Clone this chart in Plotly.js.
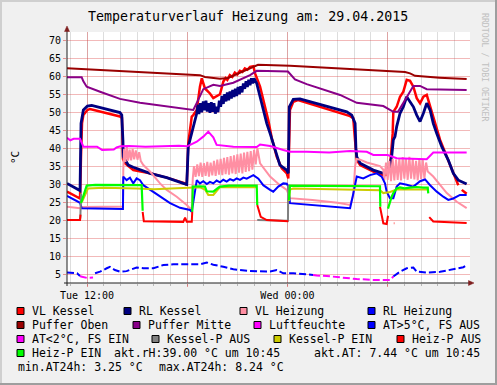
<!DOCTYPE html>
<html><head><meta charset="utf-8">
<script src="https://cdn.plot.ly/plotly-3.0.1.min.js"></script>
<style>html,body{margin:0;padding:0;background:#F0F0F0;}#chart{width:497px;height:385px;}</style>
</head><body><div id="chart"></div>
<script>
// ---- data (x = hours since Tue 00:00, y = °C) ----
const vlKesselH = [10.80,11.46,11.58,11.64,11.70,11.78,12.02,12.18,13.0,13.97,14.09,14.12,14.15,14.27,14.77,15.77,16.77,17.87,17.97,18.06,18.27,18.36,18.57,18.76,18.87,19.06,19.36,19.56,19.86,19.96,20.16,20.30,20.40,20.55,20.70,20.85,21.00,21.15,21.30,21.45,21.60,21.76,21.96,22.06,22.36,22.66,22.85,23.06,23.36,23.66,23.96,24.05,24.09,24.15,24.35,24.63,27.75,27.94,28.05,28.15,28.35,29.14,29.74,29.94,30.14,30.24,30.30,30.34,30.54,30.74,30.94,31.14,31.34,31.54,31.74,31.94,32.14,32.34,32.43,32.64,32.94,33.14,33.54,33.93,34.23,null,34.44,34.73];
const vlKesselT = [27.9,26.1,26.0,38,47,49.2,50.6,50.9,50.0,48.8,48.4,42,37,35.8,33.9,33.0,31.8,30.2,29.7,41.4,48.8,49.2,50.6,57.1,59.4,56.6,55.2,53.9,54.8,55.0,58.5,59.5,59.0,60.3,59.8,61.0,60.5,61.5,61.2,62.2,61.8,62.6,62.8,60.8,57.1,51.5,47.8,42.8,37.6,34.4,33.0,31.6,42,50.6,52.9,53.4,48.9,48.3,42,36.7,35.3,33.5,32.5,32.6,34.8,39.5,44.1,50.1,51.5,54.3,55.7,59.0,58.7,57.1,53.9,52.5,54.3,54.8,53.4,49.7,45.0,42.3,37.6,33.0,29.7,null,28.4,27.3];

const rlKesselH = [10.80,11.46,11.58,11.64,11.78,12.02,12.28,13.97,14.08,14.15,14.17,14.47,14.77,15.77,16.77,17.76,17.97,18.06,18.17,18.36,18.57,18.64,18.70,18.78,18.86,18.96,19.04,19.12,19.20,19.28,19.36,19.44,19.52,19.60,19.68,19.76,19.84,19.92,20.00,20.08,20.16,20.24,20.32,20.40,20.48,20.56,20.64,20.72,20.80,20.88,20.96,21.04,21.12,21.20,21.28,21.36,21.44,21.52,21.60,21.68,21.76,21.84,21.92,22.00,22.16,22.36,22.55,22.76,22.96,23.15,23.36,23.55,23.96,24.05,24.11,24.35,24.75,27.55,27.85,28.05,28.10,28.15,28.35,29.14,29.74,30.04,30.24,30.34,30.44,30.54,30.74,30.94,31.14,31.34,31.54,31.74,31.94,32.14,32.34,32.54,32.73,32.94,33.24,33.63,33.93,34.23,34.73];
const rlKesselT = [30.2,28.4,28.2,46.9,50.6,51.7,51.9,49.9,49.2,42,37.6,35.3,34.7,33.0,31.8,30.2,29.9,40.4,42.3,46.0,49.7,52.1,49.5,52.5,50.0,53.0,50.5,53.2,50.2,52.5,49.8,52.8,50.1,52.5,49.6,51.5,50.0,53.2,51.5,54.5,52.3,55.0,53.0,55.5,53.3,55.8,53.8,56.2,54.2,56.5,54.5,57.0,55.0,57.2,55.5,58.0,56.5,58.6,57.0,59.0,57.5,59.4,58.0,59.4,58.0,54.3,50.6,46.9,44.1,41.3,38.6,35.3,33.9,33.0,51.5,53.6,53.7,50.1,49.2,46.9,40,37.6,35.8,33.9,33.0,33.5,37.6,42.3,43.2,46.0,49.7,51.5,54.3,52.9,51.5,49.2,47.4,49.7,52.5,50.6,46.9,44.1,40.4,36.7,33.0,31.1,30.0];

const vlHeizungH = [10.80,11.58,11.70,14.15,14.17,14.22,14.30,14.38,14.46,14.55,14.64,14.73,14.82,14.92,15.02,15.12,15.22,15.37,15.77,16.37,16.77,17.37,17.97,18.27,18.33,18.40,18.50,18.60,18.70,18.80,18.90,19.00,19.10,19.20,19.30,19.40,19.50,19.60,19.70,19.80,19.90,20.00,20.10,20.20,20.30,20.40,20.50,20.60,20.70,20.80,20.90,21.00,21.10,21.20,21.30,21.40,21.50,21.60,21.70,21.80,21.90,22.00,22.10,22.20,22.36,22.96,23.55,23.96,24.15,25.50,27.00,27.75,27.85,27.94,28.05,28.15,28.35,28.75,29.14,29.54,29.74,29.80,29.90,30.00,30.10,30.20,30.30,30.40,30.50,30.60,30.70,30.80,30.90,31.00,31.10,31.20,31.30,31.40,31.50,31.60,31.70,31.80,31.90,32.00,32.10,32.20,32.30,32.40,32.73,33.54,34.14,34.73];
const vlHeizungT = [23.7,23.3,23.6,23.8,34.0,39.8,36.2,40.4,36.5,39.6,36.6,39.8,36.9,39.4,36.8,38.9,36.4,35.3,33.5,30.2,28.4,26.5,24.2,22.8,31.5,35.0,32.0,35.5,32.2,36.0,32.0,35.8,32.3,36.2,32.1,36.0,32.4,36.5,32.3,36.8,32.6,37.0,32.5,37.3,32.8,37.5,32.6,37.8,33.0,38.0,32.8,38.3,33.2,38.5,33.0,38.8,33.4,39.0,33.6,39.2,34.0,39.5,35.5,40.0,35.8,32.1,29.7,28.4,26.1,25.6,24.8,24.2,25.5,26.8,35.0,37.0,36.8,36.0,35.5,35.0,34.0,31.0,36.0,31.2,36.5,30.8,37.0,31.0,36.8,31.2,37.2,31.0,37.5,31.5,37.0,31.2,37.6,31.5,37.0,31.3,36.5,31.0,37.2,31.4,36.8,31.5,36.0,33.5,32.1,27.5,25.1,23.3];

const rlHeizungH = [10.80,11.58,11.68,14.15,14.17,14.37,14.57,14.77,14.97,15.17,15.37,15.77,16.37,16.97,17.57,18.17,18.27,18.57,18.76,18.96,19.17,19.36,19.56,19.76,19.96,20.16,20.36,20.56,20.76,20.96,21.16,21.36,21.56,21.76,21.96,22.26,22.55,22.96,23.15,23.45,23.75,23.96,24.05,24.15,27.75,27.94,28.15,28.54,28.94,29.35,29.64,29.84,29.94,30.14,30.34,30.54,30.74,31.14,31.54,31.94,32.24,32.54,32.94,33.33,33.63,33.93,34.33,34.73];
const rlHeizungT = [26.7,24.8,23.3,23.1,32.1,31.1,31.8,30.2,31.6,31.1,29.7,28.4,26.5,24.7,23.4,22.8,22.3,31.1,30.2,30.8,30.0,30.6,30.2,31.0,30.5,31.2,30.7,31.4,31.0,31.6,31.2,31.8,31.5,32.1,32.5,31.5,29.7,28.4,27.9,29.3,30.2,30.1,29.3,24.7,23.3,27.3,32.1,31.6,32.5,33.0,32.1,30.2,27.9,26.1,26.1,29.3,30.2,29.8,29.3,30.8,31.3,29.7,27.9,26.5,25.6,26.0,27.0,27.0];

const pufferObenH = [10.80,18.76,19.06,19.96,20.44,21.16,21.76,22.24,24.15,27.75,31.04,31.34,31.64,33.10,34.73];
const pufferObenT = [62.2,60.3,59.8,59.3,59.5,61.0,62.3,63.2,62.9,62.0,61.2,60.8,60.1,59.6,59.2];

const pufferMitteH = [10.80,11.68,11.78,11.98,12.78,13.97,15.17,16.77,18.36,18.57,18.96,19.56,19.96,20.76,21.16,21.76,22.16,24.03,24.45,25.15,27.15,28.15,29.74,30.34,30.62,31.14,31.54,31.94,32.34,34.73];
const pufferMitteT = [59.7,59.7,58.6,57.1,55.7,53.7,52.6,51.7,50.6,52.6,56.4,57.6,57.3,58.2,59.1,60.3,61.5,61.3,59.1,57.8,54.8,52.6,51.7,50.1,50.1,54.3,57.3,57.3,56.4,56.2];

const luftfeuchteH = [10.80,11.00,11.20,11.58,11.78,12.60,12.90,13.60,13.77,14.00,14.50,15.50,16.50,17.50,18.00,18.57,18.96,19.26,19.56,19.76,20.76,21.50,22.16,22.36,22.96,23.75,24.15,25.15,25.53,26.50,27.75,28.75,29.14,30.00,30.54,31.50,32.34,32.73,34.73];
const luftfeuchteRH = [42.9,42.2,42.6,42.6,40.4,40.4,39.5,39.6,40.2,40.5,40.6,40.4,40.5,40.7,40.5,41.8,43.2,44.6,43.0,40.9,40.4,40.4,40.3,41.0,40.6,39.5,39.0,39.0,38.9,38.8,39.2,39.0,38.1,38.1,37.2,37.0,36.9,38.8,38.8];

const atAusH = [10.80,11.40,11.58,null,12.48,12.78,13.18,13.37,13.67,13.97,14.37,14.97,15.37,15.97,16.57,17.17,17.97,18.76,19.17,19.56,20.16,20.76,21.76,22.36,22.96,23.36,23.75,24.35,25.15,25.53,null,30.34,30.74,31.14,31.54,31.74,32.34,33.14,33.93,34.53,34.73];
const atAusT = [5.4,5.2,4.45,null,5.2,5.65,6.6,7.0,6.1,5.65,5.8,6.8,6.6,6.6,7.5,7.7,7.7,7.7,8.2,7.6,7.0,6.3,5.85,5.85,5.7,6.1,5.2,5.2,4.9,4.75,null,4.3,5.65,6.6,6.8,5.65,5.4,5.6,6.3,6.9,7.4];
const atEinH = [11.58,11.64,12.00,12.36,null,25.53,25.75,26.35,27.15,28.15,29.14,29.54,30.14,30.34];
const atEinT = [4.45,4.3,3.9,4.0,null,4.75,4.6,4.45,4.0,3.6,3.35,3.25,3.3,4.3];

const kesselPAusH = [10.80,11.58,11.60,11.64,null,22.19,24.03,24.05];
const kesselPAusV = [20.0,20.0,20.9,27.4,null,20.0,19.8,29.7];
const kesselPEinH = [11.70,12.06,13.0,14.0,15.0,16.0,17.0,18.0,18.36,18.76,19.06,19.26,19.56,19.86,19.96,21.0,22.16,null,24.09,24.15,24.35,26.0,28.0,29.54,29.74,30.14,30.54,31.5,32.43];
const kesselPEinV = [25.1,28.8,29.0,29.0,28.8,28.6,28.8,29.0,29.0,29.1,28.5,27.0,27.0,28.8,29.2,29.1,29.1,null,25.3,28.5,28.8,28.7,28.6,28.3,27.5,27.8,28.5,28.6,28.5];
const heizPAusH = [10.80,11.58,11.61,null,15.33,15.40,17.76,17.87,17.97,18.27,18.30,null,22.19,22.40,22.76,24.05,null,29.54,29.74,29.94,30.02,null,30.37,30.40,null,32.49,32.73,34.73];
const heizPAusV = [20.0,20.0,21.5,null,22.3,19.7,19.5,20.7,19.5,19.5,22.3,null,24.2,20.9,20.0,19.7,null,23.7,19.1,18.9,21.2,null,19.1,19.1,null,20.8,19.6,19.2];
const heizPEinH = [11.64,11.98,12.5,13.5,14.5,15.27,15.33,null,18.30,18.33,18.76,19.06,19.17,19.56,19.86,19.96,20.5,21.5,22.16,22.19,null,24.09,24.15,26.0,28.0,29.54,29.56,null,30.02,30.10,30.24,30.34,30.44,30.54,30.74,31.0,31.34,31.74,32.14,32.40,32.43];
const heizPEinV = [24.7,29.6,29.8,29.7,29.6,29.7,22.6,null,22.3,29.3,29.4,29.3,28.0,27.9,29.0,29.3,29.6,29.6,29.6,24.2,null,25.5,29.6,29.5,29.4,29.4,23.7,null,23.2,24.5,26.5,27.5,28.0,28.8,29.1,28.8,29.0,29.2,29.0,29.0,27.4];

const xTickVals = [12, 18, 24, 30];
const xTickText = ['Tue 12:00', '', 'Wed 00:00', ''];
const yTickVals = [5,10,15,20,25,30,35,40,45,50,55,60,65,70];

const legendLabels = ['VL Kessel','RL Kessel','VL Heizung','RL Heizung','Puffer Oben','Puffer Mitte','Luftfeuchte','AT>5°C, FS AUS','AT<2°C, FS EIN','Kessel-P AUS','Kessel-P EIN','Heiz-P AUS','Heiz-P EIN'];
const infoTexts = ['akt.rH:39.00 °C um 10:45','akt.AT: 7.44 °C um 10:45','min.AT24h: 3.25 °C','max.AT24h: 8.24 °C'];
const titleText = 'Temperaturverlauf Heizung am: 29.04.2015';

// ---- drawing ----
const F = 'DejaVu Sans Mono';
const C = ['#FF0000','#000080','#FF8FA3','#0000FF','#9A0000','#880088','#FF00FF','#0000FF','#FF00FF','#808080','#CCCC00','#FF0000','#00FF00'];
const seriesXY = [[vlKesselH,vlKesselT],[rlKesselH,rlKesselT],[vlHeizungH,vlHeizungT],[rlHeizungH,rlHeizungT],[pufferObenH,pufferObenT],[pufferMitteH,pufferMitteT],[luftfeuchteH,luftfeuchteRH],[atAusH,atAusT],[atEinH,atEinT],[kesselPAusH,kesselPAusV],[kesselPEinH,kesselPEinV],[heizPAusH,heizPAusV],[heizPEinH,heizPEinV]];
const widths = [2.5,2.8,2,2,2,2,2,2,2,2,2,2,2.2];
const traces = seriesXY.map((s,i)=>({
  type:'scatter', mode:'lines', x:s[0], y:s[1], connectgaps:false, hoverinfo:'skip',
  line:{color:C[i], width:widths[i], dash:(i===7||i===8)?'7px,3px':'solid'}
}));

const PX = x => (x - 67) / 403;
const PY = y => (283 - y) / 251;
const shapes = [];
const ann = [];
// frame
shapes.push({type:'line',xref:'paper',yref:'paper',x0:PX(0),x1:PX(497),y0:PY(1),y1:PY(1),line:{color:'#CFCFCF',width:2}});
shapes.push({type:'line',xref:'paper',yref:'paper',x0:PX(1),x1:PX(1),y0:PY(0),y1:PY(385),line:{color:'#CFCFCF',width:2}});
shapes.push({type:'line',xref:'paper',yref:'paper',x0:PX(496),x1:PX(496),y0:PY(0),y1:PY(385),line:{color:'#9E9E9E',width:2}});
shapes.push({type:'line',xref:'paper',yref:'paper',x0:PX(0),x1:PX(497),y0:PY(384),y1:PY(384),line:{color:'#9E9E9E',width:2}});
// axes
shapes.push({type:'line',xref:'paper',yref:'paper',x0:PX(67),x1:PX(67),y0:PY(286),y1:PY(29),line:{color:'#1F1F1F',width:1}});
shapes.push({type:'line',xref:'paper',yref:'paper',x0:PX(64),x1:PX(471),y0:PY(283),y1:PY(283),line:{color:'#1F1F1F',width:1}});
shapes.push({type:'path',xref:'paper',yref:'paper',path:`M ${PX(64.5)} ${PY(31.5)} L ${PX(67)} ${PY(26)} L ${PX(69.5)} ${PY(31.5)} Z`,fillcolor:'#7F1F1F',line:{color:'#7F1F1F',width:0.5}});
shapes.push({type:'path',xref:'paper',yref:'paper',path:`M ${PX(468.5)} ${PY(280.5)} L ${PX(474)} ${PY(283)} L ${PX(468.5)} ${PY(285.5)} Z`,fillcolor:'#7F1F1F',line:{color:'#7F1F1F',width:0.5}});

// legend
const rowY = [311, 325, 339, 353];
const sqX = [17,124,240,368, 17,133,254,368, 17,152,274,397, 17];
legendLabels.forEach((lab,i)=>{
  const r = Math.floor(i/4), y = rowY[r], x = sqX[i];
  shapes.push({type:'rect',xref:'paper',yref:'paper',x0:PX(x),x1:PX(x+7),y0:PY(y+3.5),y1:PY(y-3.5),fillcolor:C[i],line:{color:'#000',width:1}});
  ann.push({xref:'paper',yref:'paper',x:PX(x+13.5),y:PY(y),xanchor:'left',yanchor:'middle',text:lab,showarrow:false,borderpad:0,font:{family:F,size:11.5,color:'#000'}});
});
const infoPos = [[113,353],[312.5,353],[16.5,367],[158,367]];
infoTexts.forEach((t,i)=>{
  ann.push({xref:'paper',yref:'paper',x:PX(infoPos[i][0]),y:PY(infoPos[i][1]),xanchor:'left',yanchor:'middle',text:t,showarrow:false,borderpad:0,font:{family:F,size:11.5,color:'#000'}});
});
// title, unit, watermark
ann.push({xref:'paper',yref:'paper',x:PX(248),y:PY(16),xanchor:'center',yanchor:'middle',text:titleText,showarrow:false,borderpad:0,font:{family:F,size:13.3,color:'#000'}});
ann.push({xref:'paper',yref:'paper',x:PX(15),y:PY(158),xanchor:'center',yanchor:'middle',text:'°C',textangle:-90,showarrow:false,borderpad:0,font:{family:F,size:11,color:'#000'}});
ann.push({xref:'paper',yref:'paper',x:PX(485.5),y:PY(67.5),xanchor:'center',yanchor:'middle',text:'RRDTOOL / TOBI OETIKER',textangle:90,showarrow:false,borderpad:0,font:{family:F,size:8.2,color:'#C0C0C0'}});

const layout = {
  width:497, height:385, margin:{l:67,r:27,t:32,b:102,pad:0},
  paper_bgcolor:'#F0F0F0', plot_bgcolor:'#FFFFFF', showlegend:false,
  xaxis:{range:[10.8,34.93], tickmode:'array', tickvals:xTickVals, ticktext:xTickText,
    showgrid:true, gridcolor:'rgba(222,80,80,0.4)', gridwidth:1, zeroline:false, showline:false,
    ticks:'outside', ticklen:3, tickcolor:'rgba(222,80,80,0.6)',
    tickfont:{family:F,size:10,color:'#000'},
    minor:{tickmode:'linear', tick0:0, dtick:1, showgrid:true, gridcolor:'rgba(143,143,143,0.3)', ticks:'outside', ticklen:2, tickcolor:'rgba(143,143,143,0.6)'}},
  yaxis:{range:[2.5,72.3], tickmode:'array', tickvals:yTickVals,
    showgrid:true, gridcolor:'rgba(222,80,80,0.4)', gridwidth:1, zeroline:false, showline:false,
    ticks:'outside', ticklen:3, tickcolor:'rgba(222,80,80,0.6)',
    tickfont:{family:F,size:10,color:'#000'}},
  shapes:shapes, annotations:ann
};
Plotly.newPlot('chart', traces, layout, {staticPlot:true, displayModeBar:false});
</script></body></html>
